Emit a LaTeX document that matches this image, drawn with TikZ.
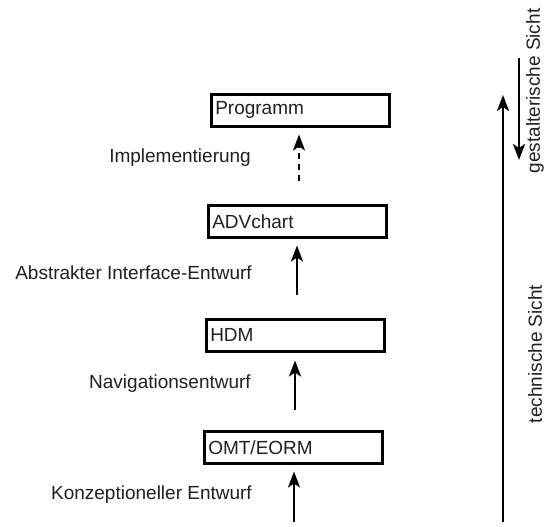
\documentclass[tikz,border=0pt]{standalone}
\usepackage{fontspec}
\setmainfont{Liberation Sans}
\usetikzlibrary{arrows.meta}
\definecolor{ink}{RGB}{35,31,32}
\begin{document}
\begin{tikzpicture}[x=1pt,y=-1pt,
  font=\fontsize{19}{22}\selectfont, text=ink,
  stage/.style={draw, line width=2.5pt, minimum width=178pt, minimum height=32pt,
    text width=170pt, align=left, inner sep=3pt, anchor=north west},
  lbl/.style={anchor=east, inner sep=0pt},
  flow/.style={line width=2.5pt, -{Stealth[length=16pt,width=12pt,inset=4pt]}},
  side/.style={rotate=90, inner sep=0pt}]
\useasboundingbox (0,0) rectangle (546,527);

% stages of the design process
\node[stage] (prog) at (210,93) {Programm};
\node[stage] (adv)  at (207,204) {ADVchart};
\node[stage] (hdm)  at (205,318) {HDM};
\node[stage] (omt)  at (203,430) {OMT/EORM};

% free ends of the transitions
\coordinate (s1) at (299,181);
\coordinate (s2) at (297,295);
\coordinate (s3) at (295,410);
\coordinate (s4) at (294,522);

\draw[flow, dash pattern=on 6pt off 5pt] (s1) -- (prog.south -| s1) [shorten >=7pt];
\draw[flow] (s2) -- (adv.south -| s2) [shorten >=7pt];
\draw[flow] (s3) -- (hdm.south -| s3) [shorten >=8pt];
\draw[flow] (s4) -- (omt.south -| s4) [shorten >=7pt];

% transition labels
\node[lbl] (l1) at (251,158) {Implementierung};
\node[lbl] (l2) at (252,273) {Abstrakter Interface-Entwurf};
\node[lbl] (l3) at (251,384) {Navigationsentwurf};
\node[lbl] (l4) at (252,495) {Konzeptioneller Entwurf};

% viewpoints
\coordinate (tb) at (503,522);
\coordinate (tt) at (503,95);
\coordinate (gt) at (519,58);
\coordinate (gb) at (519,160);
\draw[flow] (tb) -- (tt);
\draw[flow] (gt) -- (gb);
\node[side] (gs) at (535,91) {gestalterische Sicht};
\node[side] (ts) at (535,354) {technische Sicht};
\end{tikzpicture}
\end{document}
